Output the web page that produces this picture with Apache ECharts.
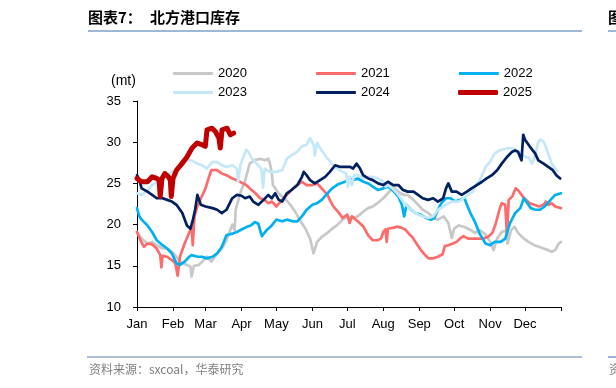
<!DOCTYPE html>
<html><head><meta charset="utf-8">
<script src="https://cdn.jsdelivr.net/npm/echarts@6/dist/echarts.min.js"></script>
<style>html,body{margin:0;padding:0;background:#fff}#c{width:616px;height:388px}</style>
</head><body><div id="c"></div>
<script>
// ---- data (x = day of year, y = million tonnes) ----
const monthLabels = ['Jan','Feb','Mar','Apr','May','Jun','Jul','Aug','Sep','Oct','Nov','Dec'];
const monthStartDays = [0,31,59,90,120,151,181,212,243,273,304,334];
const yearNames = ['2020','2021','2022','2023','2024','2025'];

const s2020 = [[0,19.1],[4,18.3],[9,17.7],[13,17.9],[17,17.5],[22,17.1],[26,17.1],[30,16.7],[34,16.1],[37,15.5],[40,15.3],[43,15.1],[46,14.9],[47,13.7],[49,15.0],[53,15.1],[56,15.5],[60,16.1],[64,15.5],[69,16.5],[73,17.1],[77,18.1],[82,20.0],[84,19.3],[85,21.8],[89,23.9],[93,25.3],[97,27.4],[101,27.8],[106,28.0],[110,27.8],[113,28.0],[114.5,27.4],[116,26.2],[117,24.8],[120,24.2],[123,23.6],[127,23.2],[132,22.4],[136,21.6],[140,20.6],[145,19.5],[149,18.3],[152,16.5],[155,17.9],[159,18.5],[163,18.9],[168,19.5],[172,19.9],[177,20.6],[181,21.0],[186,20.8],[190,21.0],[195,21.6],[199,22.0],[203,22.2],[207,22.6],[212,23.2],[216,23.8],[221,24.5],[225,24.0],[229,23.6],[233,23.6],[238,23.0],[242,22.4],[246,21.8],[251,21.4],[255,20.8],[259,20.6],[264,21.0],[268,20.2],[271,18.4],[273,19.5],[277,19.9],[282,19.7],[287,19.35],[291,19.0],[295,19.35],[300,18.8],[304,17.9],[307,16.9],[310,18.3],[314,19.1],[318,19.3],[319,17.7],[322,19.3],[325,19.75],[328,19.0],[333,18.3],[337,17.9],[342,17.5],[346,17.3],[350,17.1],[354,16.9],[357,16.7],[360,16.9],[363,17.7],[365,17.9]];

const s2021 = [[0,19.1],[3,18.1],[6,17.3],[9,17.7],[13,17.6],[17,17.1],[20,16.3],[21,14.8],[22,16.2],[26,16.1],[30,15.7],[33,15.3],[35,13.8],[37,16.1],[41,17.7],[44,18.7],[47,19.7],[48,17.5],[49.5,21.0],[52,22.2],[55,23.2],[59,24.4],[62,25.8],[64,26.6],[69,26.6],[73,26.2],[77,26.0],[82,25.6],[86,25.4],[90,25.1],[94,24.8],[97,24.4],[102,23.8],[106,23.2],[110,23.0],[113,22.6],[116,22.8],[120,22.2],[125,23.0],[129,23.6],[133,24.2],[138,24.8],[142,25.2],[146,24.8],[151,24.8],[155,25.0],[159,24.4],[164,23.6],[166,23.0],[169,22.2],[174,21.4],[177,20.8],[181,21.2],[183,20.2],[185,21.0],[190,20.4],[195,19.75],[199,18.7],[203,18.1],[207,18.1],[210,18.3],[212,19.1],[214,19.4],[215,17.9],[216,19.5],[220,19.6],[224,19.75],[228,19.6],[231,19.4],[234,18.9],[237,18.5],[242,17.4],[245,16.8],[248,16.3],[251,15.9],[255,15.9],[259,16.1],[263,16.4],[265,17.4],[268,17.5],[272,17.7],[275,17.9],[278,18.3],[281,18.6],[285,18.3],[290,18.3],[294,18.3],[298,18.3],[302,18.5],[306,19.0],[309,20.2],[312,21.8],[314,22.6],[317,22.4],[318.5,18.8],[320,23.0],[323,23.4],[326,24.4],[328,24.2],[332,23.4],[335,23.0],[338,22.6],[342,22.4],[346,22.2],[350,22.4],[352,22.8],[354,22.4],[357,22.6],[360,22.2],[365,22.0]];

const s2022 = [[0,22.0],[2,21.0],[4,20.6],[9,19.9],[13,19.1],[17,18.1],[22,17.5],[26,17.1],[30,16.5],[34,15.3],[37,15.1],[41,15.5],[45,16.1],[47,16.3],[52,16.1],[56,16.1],[60,15.9],[65,16.1],[69,16.5],[73,17.3],[77,18.7],[82,18.9],[86,19.1],[90,19.4],[94,19.7],[98,19.9],[101.6,20.3],[104.5,20.1],[107.5,18.6],[111.8,19.35],[116,19.9],[120,20.6],[125,20.4],[129,20.6],[134,20.4],[138,20.4],[142,21.0],[146,21.8],[151,22.4],[155,22.6],[159,23.0],[164,23.8],[168,24.4],[172,24.8],[175,25.0],[179,25.2],[183,25.6],[186,25.4],[190,25.6],[195,25.2],[199,25.0],[203,24.6],[207.5,24.2],[212,24.4],[216,24.6],[220,24.2],[225,23.4],[228,22.4],[230,21.0],[232,22.4],[236,21.8],[240,21.4],[244,21.2],[249,20.8],[253,20.6],[256,20.8],[259,21.8],[262,22.6],[266,23.2],[270,23.2],[274,22.8],[278,23.0],[282,23.2],[284,22.4],[287,21.4],[291,20.3],[295,18.9],[300,17.7],[304,17.5],[308,17.9],[313,17.9],[317,18.3],[321,20.15],[325.5,21.4],[330,22.0],[333,23.2],[336,22.6],[339,22.0],[343,21.8],[347,21.8],[351,22.2],[356,23.0],[360,23.6],[365,23.8]];

const s2023 = [[0,23.8],[4,23.6],[9,24.2],[13,24.8],[17,25.2],[22,25.6],[26,26.0],[30,26.4],[34,26.6],[39,27.8],[43,27.8],[47,27.8],[52,27.4],[56,27.2],[60,26.8],[65,27.6],[69,27.6],[73,27.2],[77,27.0],[82,27.2],[86,26.8],[87,25.2],[89,27.2],[92,28.4],[94,29.1],[96,28.8],[99,28.0],[103,27.4],[107,26.8],[108.5,24.5],[110,26.8],[114,26.4],[120,26.4],[125,26.6],[129,28.0],[133,28.4],[138,28.85],[142,29.5],[146,29.7],[149,30.5],[152,29.7],[153,28.4],[155,29.9],[159,29.0],[163,28.2],[168,27.4],[172,26.8],[177,26.4],[180,26.2],[181.5,24.6],[183,25.8],[185,24.8],[187,26.0],[190,26.0],[195,25.6],[199,25.8],[203,25.8],[207.5,25.6],[212,25.2],[214,24.6],[216,24.8],[220,24.4],[225,23.6],[229,22.8],[233,22.2],[238,21.6],[242,21.2],[246,21.0],[251,20.8],[255,21.0],[259,21.8],[264,22.2],[268,22.6],[272,22.8],[277,22.8],[281,23.2],[285,23.6],[289,24.0],[292.5,25.0],[295,25.4],[298,26.3],[300,27.0],[304,27.6],[308,28.65],[312,29.0],[317,29.2],[321,29.3],[325,29.2],[330,28.65],[334,28.2],[337,28.2],[340,27.4],[343,28.5],[345,29.9],[347,30.3],[350,30.1],[351.5,30.3],[353,29.0],[355,28.2],[357,27.4],[360,26.8],[362,26.5]];

const s2024 = [[0,26.0],[2,25.4],[4,24.4],[9,24.0],[13,23.6],[17,23.2],[22,23.2],[26,23.0],[30,22.8],[34,22.4],[37,21.8],[39,21.4],[43,19.9],[46,19.5],[48,20.5],[50,21.8],[52,23.6],[55,22.4],[59,22.2],[65,22.0],[69,21.8],[73,21.4],[77,21.8],[82,23.2],[86,23.6],[90,23.5],[93,23.2],[97,23.4],[100,22.8],[104.5,22.4],[109,23.0],[113,23.6],[116,23.2],[119,23.8],[122,23.0],[125,22.8],[129,23.8],[133,24.2],[138,24.8],[142,25.8],[143.5,26.4],[146,26.0],[149,25.4],[153,25.0],[157.6,25.4],[162,25.8],[166,26.4],[170.6,27.2],[175,27.0],[179,27.0],[183.5,27.0],[186,26.8],[189,27.4],[192,26.8],[194.6,26.0],[199,25.6],[203,25.4],[207.5,25.0],[212,24.8],[216,25.2],[220.5,24.8],[225,24.8],[229,24.2],[233,24.0],[238,24.0],[242,23.6],[246,23.2],[250.6,23.0],[255,23.2],[259,22.8],[263.6,23.2],[266,24.4],[268,25.0],[271,24.0],[275,24.0],[279.5,23.6],[284,24.0],[288,24.4],[292.5,24.8],[297,25.2],[301,25.6],[305.5,26.0],[310,26.6],[314,27.4],[318.5,28.2],[323,28.85],[325.5,29.0],[328,28.85],[331,27.8],[332.5,30.9],[334,30.3],[338,29.5],[342.7,28.65],[345.5,27.8],[350,27.4],[354,27.0],[358,26.6],[361,26.0],[364.3,25.6]];

const s2025 = [[0,25.6],[4,25.2],[9,25.2],[13,25.8],[17,25.6],[19,25.4],[20,23.4],[21.5,25.6],[24,26.2],[27,25.8],[28.7,25.4],[29.5,23.4],[31,25.6],[34,26.6],[38.7,27.4],[43,28.2],[47.4,29.3],[51.7,29.9],[56,29.7],[58.8,29.5],[60.3,31.5],[64.6,31.7],[67.5,31.3],[70.5,30.5],[71.7,29.3],[73.2,31.5],[77.5,31.7],[80.4,30.9],[83.2,31.1]];

const seriesData = [s2020, s2021, s2022, s2023, s2024, s2025];
const colors = ['#c8c8c8','#ff6b6b','#00b0f0','#c4e8f8','#002060','#c00000'];
const widths = [2.7, 2.7, 2.7, 2.7, 2.7, 5];

const FONT = "'Liberation Sans', Arial, sans-serif";
const CJK = "'Noto Sans CJK SC', sans-serif";

const chart = echarts.init(document.getElementById('c'), null, {renderer: 'canvas'});

function legendFor(names, left, top, h) {
  return {
    left: left, top: top, padding: 0, itemWidth: 40, itemHeight: h, itemGap: 69,
    icon: 'roundRect',
    textStyle: {fontSize: 13, color: '#000', fontFamily: FONT},
    selectedMode: false,
    data: names.map(n => ({name: n, icon: 'roundRect'}))
  };
}

chart.setOption({
  animation: false,
  backgroundColor: '#fff',
  grid: {left: 137, right: 55, top: 101, bottom: 81},
  legend: [
    legendFor(yearNames.slice(0, 3), 173, 67, 3),
    legendFor(yearNames.slice(3, 5), 173, 86, 3),
    legendFor(yearNames.slice(5), 458, 86, 5)
  ],
  xAxis: {
    type: 'value', min: 0, max: 365,
    axisLine: {show: true, lineStyle: {color: '#000', width: 1}},
    axisTick: {show: true, length: 4, customValues: monthStartDays.concat([365]), lineStyle: {color: '#000'}},
    axisLabel: {
      customValues: monthStartDays,
      formatter: v => monthLabels[monthStartDays.indexOf(v)],
      fontSize: 13, color: '#000', fontFamily: FONT, margin: 11
    },
    splitLine: {show: false}
  },
  yAxis: {
    type: 'value', min: 10, max: 35, interval: 5,
    axisLine: {show: true, lineStyle: {color: '#000', width: 1}},
    axisTick: {show: true, length: 4, lineStyle: {color: '#000'}},
    axisLabel: {fontSize: 13, color: '#000', fontFamily: FONT, margin: 16},
    splitLine: {show: false}
  },
  series: yearNames.map((n, i) => ({
    name: n, type: 'line', data: seriesData[i],
    symbol: 'none', showSymbol: false, silent: true,
    lineStyle: {color: colors[i], width: widths[i], cap: 'round', join: 'round'},
    itemStyle: {color: colors[i]},
    z: 2 + i
  })),
  graphic: [
    {type: 'text', left: 88, top: 10, style: {text: '图表7：', font: "bold 15px " + CJK, fill: '#000'}},
    {type: 'text', left: 150, top: 10, style: {text: '北方港口库存', font: "bold 15px " + CJK, fill: '#000'}},
    {type: 'line', shape: {x1: 88, y1: 31, x2: 582, y2: 31}, style: {stroke: '#7f9fcb', lineWidth: 1.5}},
    {type: 'text', left: 608, top: 10, style: {text: '图', font: "bold 15px " + CJK, fill: '#000'}},
    {type: 'line', shape: {x1: 608, y1: 31, x2: 616, y2: 31}, style: {stroke: '#7f9fcb', lineWidth: 1.5}},
    {type: 'text', left: 111, top: 74, style: {text: '(mt)', font: "14px " + FONT, fill: '#000'}},
    {type: 'line', shape: {x1: 87, y1: 357, x2: 582, y2: 357}, style: {stroke: '#5b7fb5', lineWidth: 1.2}},
    {type: 'line', shape: {x1: 608, y1: 357, x2: 616, y2: 357}, style: {stroke: '#5b7fb5', lineWidth: 1.2}},
    {type: 'text', left: 89, top: 363, style: {text: '资料来源：sxcoal，华泰研究', font: "12px " + CJK, fill: '#808080'}},
    {type: 'text', left: 609, top: 363, style: {text: '资', font: "12px " + CJK, fill: '#808080'}}
  ]
});
</script></body></html>
